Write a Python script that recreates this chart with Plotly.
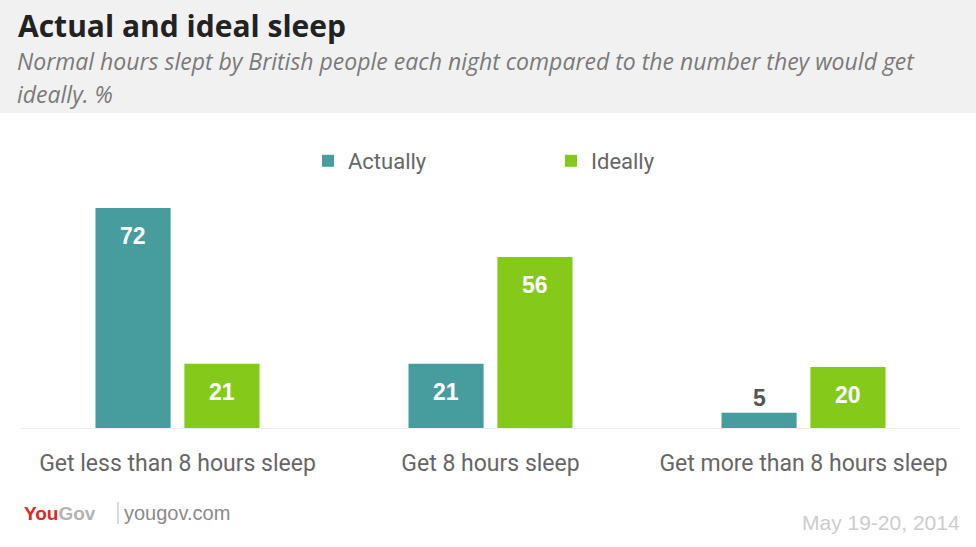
import plotly.graph_objects as go

# data
categories = ["Get less than 8 hours sleep", "Get 8 hours sleep", "Get more than 8 hours sleep"]
actually = [72, 21, 5]
ideally = [21, 56, 20]
series_names = ["Actually", "Ideally"]

TEAL = "#479d9e"
GREEN = "#85c91a"
BAR_W = 0.24
OFFSETS = [-0.262, 0.022]

W, H = 976, 547
L, R, T, B = 21, 16, 190, 119
PW, PH = W - L - R, H - T - B


# pixel (from top-left) -> paper coords of the plot area
def px_x(p):
    return (p - L) / PW


def px_y(p):
    return (H - B - p) / PH


xs = list(range(len(categories)))

fig = go.Figure()
for name, vals, col, off in zip(series_names, [actually, ideally], [TEAL, GREEN], OFFSETS):
    fig.add_trace(go.Bar(
        x=xs, y=vals, name=name,
        marker=dict(color=col, line=dict(width=0)),
        width=BAR_W, offset=off,
        hoverinfo="skip",
    ))

# value labels: inside near the top, outside if the bar is too short
annotations = []
for vals, off in zip([actually, ideally], OFFSETS):
    for i, v in enumerate(vals):
        inside = v >= 10
        annotations.append(dict(
            x=xs[i] + off + BAR_W / 2, y=v, xref="x", yref="y",
            text="<b>" + str(v) + "</b>", showarrow=False,
            yshift=-28 if inside else 15,
            font=dict(family="Liberation Sans", size=23,
                      color="white" if inside else "#555555"),
        ))

# header + footer texts
annotations += [
    dict(x=px_x(16), y=px_y(25), xref="paper", yref="paper", text="<b>Actual and ideal sleep</b>",
         showarrow=False, xanchor="left", yanchor="middle",
         font=dict(family="Open Sans", size=30, color="#222222")),
    dict(x=px_x(15), y=px_y(61), xref="paper", yref="paper",
         text="<i>Normal hours slept by British people each night compared to the number they would get</i>",
         showarrow=False, xanchor="left", yanchor="middle",
         font=dict(family="Open Sans", size=23, color="#7a7a7a")),
    dict(x=px_x(15), y=px_y(94), xref="paper", yref="paper", text="<i>ideally. %</i>",
         showarrow=False, xanchor="left", yanchor="middle",
         font=dict(family="Open Sans", size=23, color="#7a7a7a")),
    dict(x=px_x(22), y=px_y(513), xref="paper", yref="paper",
         text="<b><span style='color:#e5261f'>You</span><span style='color:#b3b3b3'>Gov</span></b>",
         showarrow=False, xanchor="left", yanchor="middle",
         font=dict(family="Liberation Sans", size=19)),
    dict(x=px_x(122), y=px_y(513), xref="paper", yref="paper", text="yougov.com",
         showarrow=False, xanchor="left", yanchor="middle",
         font=dict(family="Liberation Sans", size=20, color="#8a8a8a")),
    dict(x=px_x(962), y=px_y(522), xref="paper", yref="paper", text="May 19-20, 2014",
         showarrow=False, xanchor="right", yanchor="middle",
         font=dict(family="Liberation Sans", size=21, color="#cccccc")),
]

shapes = [
    dict(type="rect", xref="paper", yref="paper", x0=px_x(0), x1=px_x(W), y0=px_y(113), y1=px_y(0),
         fillcolor="#f1f1f1", line=dict(width=0), layer="below"),
    dict(type="line", xref="paper", yref="paper", x0=px_x(118), x1=px_x(118),
         y0=px_y(524), y1=px_y(502), line=dict(color="#b3b3b3", width=1)),
]

fig.update_layout(
    width=W, height=H,
    margin=dict(l=L, r=R, t=T, b=B, autoexpand=False),
    paper_bgcolor="white", plot_bgcolor="white",
    barmode="group",
    showlegend=True,
    legend=dict(orientation="h", x=px_x(308), xanchor="left", y=px_y(161),
                yanchor="middle", entrywidth=198,
                font=dict(family="Roboto", size=22, color="#666666"),
                bgcolor="rgba(0,0,0,0)", itemclick=False),
    xaxis=dict(range=[-0.5, 2.5], tickvals=xs, ticktext=categories, showgrid=False,
               zeroline=False, showline=True, linecolor="#eeeeee", linewidth=1,
               ticks="", ticklabelstandoff=14,
               tickfont=dict(family="Roboto", size=23, color="#666666")),
    yaxis=dict(range=[0, 72 * PH / 220], visible=False, showgrid=False, zeroline=False),
    annotations=annotations,
    shapes=shapes,
    font=dict(family="Roboto"),
)

# page body has an 8px default margin; drop it so the figure sits at 0,0
fig.write_html("out.html", config={"displayModeBar": False},
               post_script="document.body.style.margin='0';")
